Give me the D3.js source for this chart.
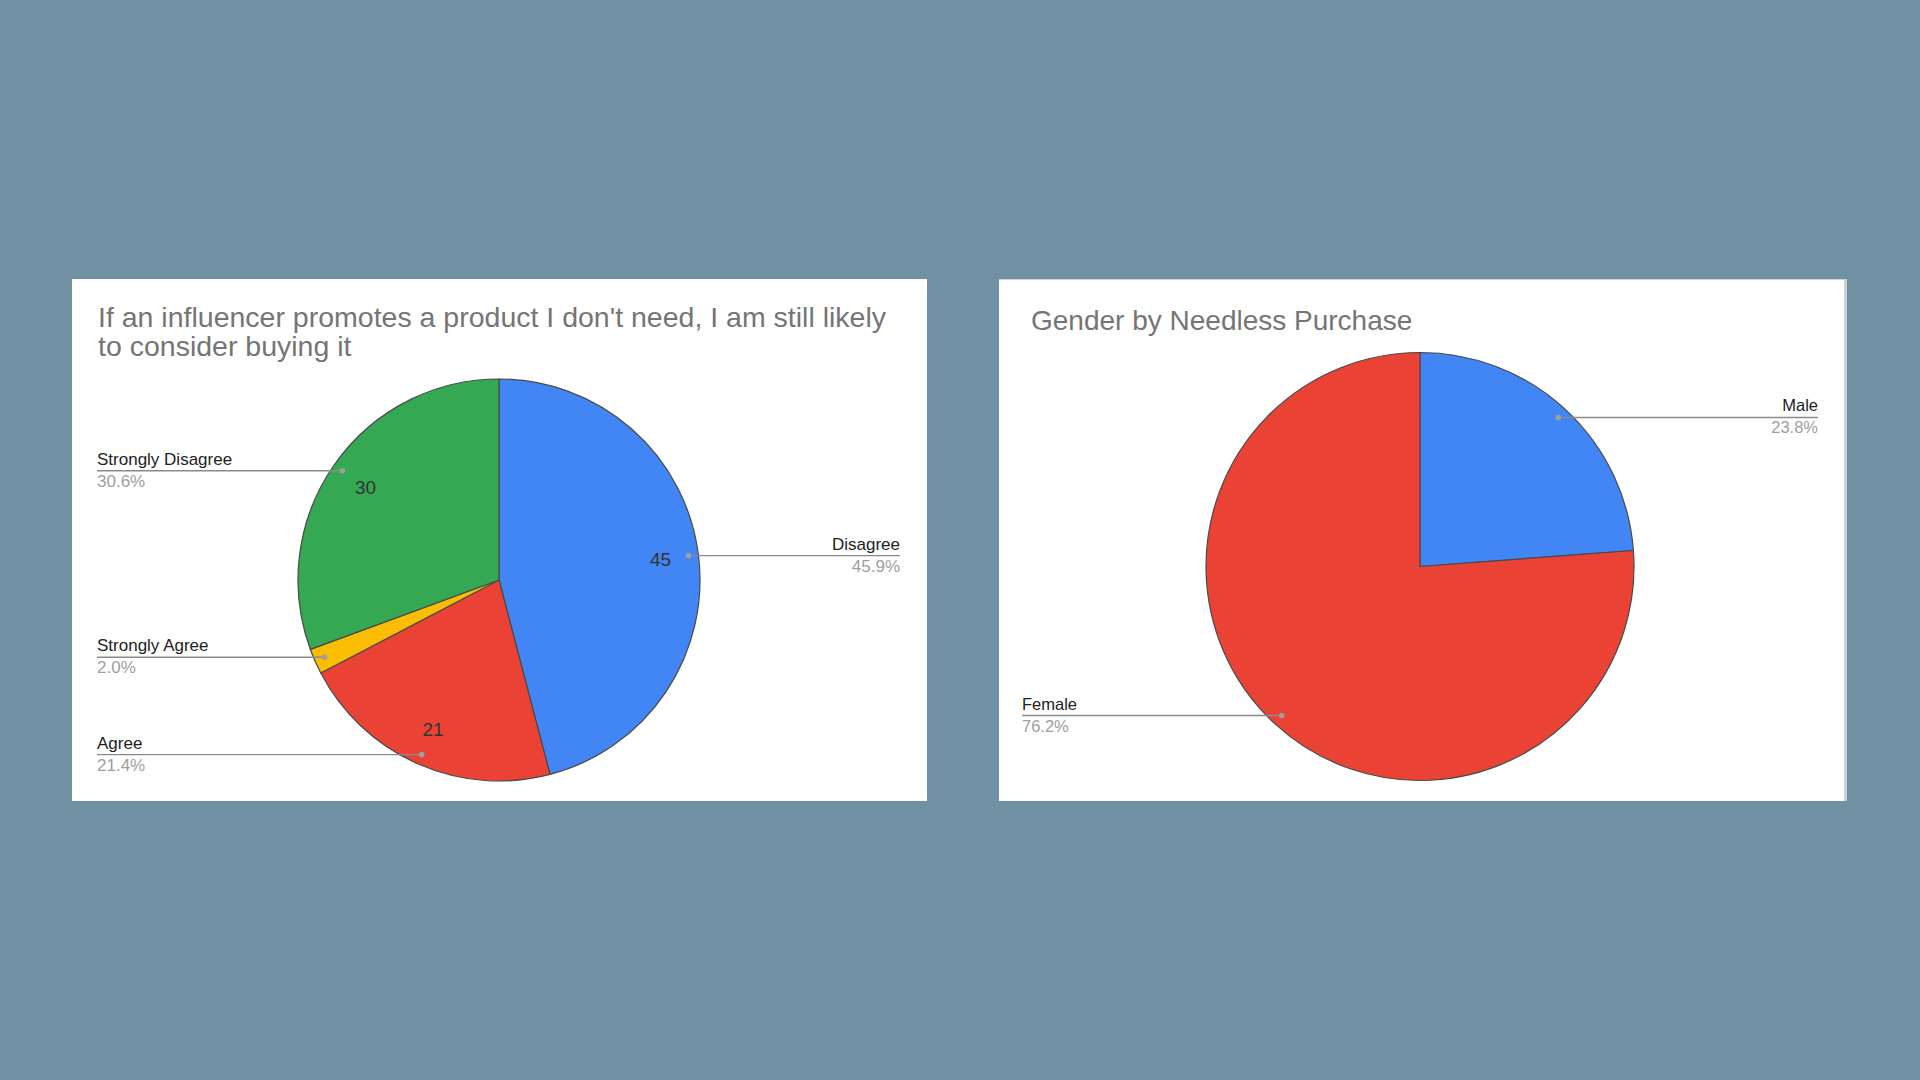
<!DOCTYPE html>
<html>
<head>
<meta charset="utf-8">
<script src="https://cdn.jsdelivr.net/npm/d3@7"></script>
<style>
  body { margin: 0; background: #7090a3; }
  svg { display: block; font-family: Arial, "Liberation Sans", sans-serif; }
</style>
</head>
<body>
<div id="chart"></div>
<script>
// data
var likelyCategories = ["Disagree", "Agree", "Strongly Agree", "Strongly Disagree"];
var likelyValues = [45, 21, 2, 30];
var likelyTitle = ["If an influencer promotes a product I don't need, I am still likely",
                   "to consider buying it"];

var genderCategories = ["Male", "Female"];
var genderValues = [5, 16];
var genderTitle = ["Gender by Needless Purchase"];

var width = 1920, height = 1080;

var svg = d3.select("#chart")
    .append("svg")
    .attr("width", width)
    .attr("height", height);

svg.append("rect")
    .attr("width", width)
    .attr("height", height)
    .attr("fill", "#7090a3");

var pct = d3.format(".1%");

function drawPie(opt) {
    var g = svg.append("g");

    // white card
    g.append("rect")
        .attr("x", opt.x).attr("y", opt.y)
        .attr("width", opt.w).attr("height", opt.h)
        .attr("fill", "#fff");

    if (opt.border) {
        g.append("line")
            .attr("x1", opt.x).attr("x2", opt.x + opt.w)
            .attr("y1", opt.y + 0.5).attr("y2", opt.y + 0.5)
            .attr("stroke", "#d4d4d4");
        g.append("rect")
            .attr("x", opt.x + opt.w - 3).attr("y", opt.y)
            .attr("width", 3).attr("height", opt.h)
            .attr("fill", "#d0d0d0");
    }

    // title
    var title = g.append("text")
        .attr("x", opt.titleX)
        .attr("y", opt.titleY)
        .style("font-size", opt.titleSize + "px")
        .attr("fill", "#757575");
    title.selectAll("tspan")
        .data(opt.title)
        .enter()
        .append("tspan")
        .attr("x", opt.titleX)
        .attr("dy", function(d, i) { return i === 0 ? 0 : 29; })
        .text(function(d) { return d; });

    var color = d3.scaleOrdinal()
        .domain(opt.categories)
        .range(opt.colors);

    var total = d3.sum(opt.values);
    var rows = opt.categories.map(function(c, i) { return {name: c, value: opt.values[i]}; });

    var pie = d3.pie()
        .sort(null)
        .value(function(d) { return d.value; });
    var arcs = pie(rows);

    var arc = d3.arc().innerRadius(0).outerRadius(opt.r);
    var dotArc = d3.arc().innerRadius(opt.r * 0.95).outerRadius(opt.r * 0.95);
    var valArc = d3.arc().innerRadius(opt.r * 0.81).outerRadius(opt.r * 0.81);

    var pg = g.append("g")
        .attr("transform", "translate(" + opt.cx + "," + opt.cy + ")");

    pg.selectAll("path")
        .data(arcs)
        .enter()
        .append("path")
        .attr("d", arc)
        .attr("fill", function(d) { return color(d.data.name); })
        .attr("stroke", "#4a4a4a")
        .attr("stroke-width", 1.2)
        .attr("stroke-linejoin", "round");

    // values inside slices (only where they fit)
    if (opt.showValues) {
        pg.selectAll(".val")
            .data(arcs.filter(function(d) { return d.value / total > 0.05; }))
            .enter()
            .append("text")
            .attr("class", "val")
            .attr("transform", function(d) { return "translate(" + valArc.centroid(d) + ")"; })
            .attr("text-anchor", "middle")
            .attr("dy", "0.36em")
            .style("font-size", "19px")
            .attr("fill", "#333")
            .text(function(d) { return d.value; });
    }

    // leader lines and labels
    arcs.forEach(function(d) {
        var p = dotArc.centroid(d);
        var px = opt.cx + p[0], py = opt.cy + p[1];
        var mid = (d.startAngle + d.endAngle) / 2;
        var right = mid < Math.PI;
        var tx = right ? opt.labelRight : opt.labelLeft;

        g.append("line")
            .attr("x1", px).attr("y1", py)
            .attr("x2", tx).attr("y2", py)
            .attr("stroke", "#8a8a8a")
            .attr("stroke-width", 1.4);
        g.append("circle")
            .attr("cx", px).attr("cy", py)
            .attr("r", 2.8)
            .attr("fill", "#9e9e9e");
        g.append("text")
            .attr("x", tx).attr("y", py - 6)
            .attr("text-anchor", right ? "end" : "start")
            .style("font-size", opt.labelSize + "px")
            .attr("fill", "#222")
            .text(d.data.name);
        g.append("text")
            .attr("x", tx).attr("y", py + 16)
            .attr("text-anchor", right ? "end" : "start")
            .style("font-size", opt.labelSize + "px")
            .attr("fill", "#9e9e9e")
            .text(pct(d.value / total));
    });
}

drawPie({
    x: 72, y: 279, w: 855, h: 522,
    title: likelyTitle, titleX: 98, titleY: 327, titleSize: 28.5,
    categories: likelyCategories, values: likelyValues,
    colors: ["#4285f4", "#ea4335", "#fbbc04", "#34a853"],
    cx: 499, cy: 580, r: 201,
    labelLeft: 97, labelRight: 900, labelSize: 17,
    showValues: true
});

drawPie({
    x: 999, y: 279, w: 848, h: 522, border: true,
    title: genderTitle, titleX: 1031, titleY: 330, titleSize: 28,
    categories: genderCategories, values: genderValues,
    colors: ["#4285f4", "#ea4335"],
    cx: 1420, cy: 566.5, r: 214,
    labelLeft: 1022, labelRight: 1818, labelSize: 16.5,
    showValues: false
});
</script>
</body>
</html>
